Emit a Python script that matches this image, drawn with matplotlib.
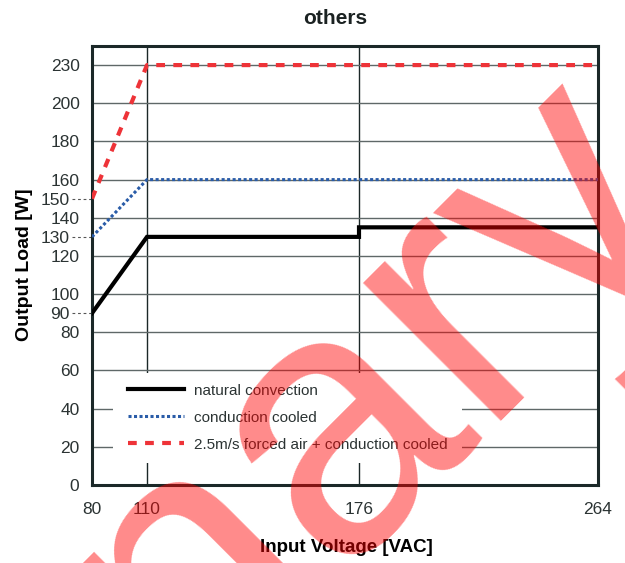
import numpy as np
import matplotlib
matplotlib.use("Agg")
import matplotlib.pyplot as plt
from matplotlib.patches import Rectangle

plt.rcParams["font.family"] = ["Liberation Sans", "DejaVu Sans"]

# ── derating curves (input voltage [VAC] -> output load [W]) ─────────
natural_v = [80, 110, 176, 176, 264]
natural_w = [90, 130, 130, 135, 135]

conduction_v = [80, 110, 264]
conduction_w = [130, 160, 160]

forced_v = [80, 110, 264]
forced_w = [150, 230, 230]

labels = [
    "natural convection",
    "conduction cooled",
    "2.5m/s forced air + conduction cooled",
]

x_ticks = [80, 110, 176, 264]
y_ticks = [0, 20, 40, 60, 80, 100, 120, 140, 160, 180, 200, 230]
y_extra = [90, 130, 150]

# ── axis spacing is not linear: piecewise break points ──────────────
x_break_v = [80, 110, 176, 264]
x_break_pos = [0, 55, 267, 506]
y_break_v = [0, 20, 40, 60, 80, 100, 120, 140, 160, 180, 200, 230, 260]
y_break_pos = list(range(len(y_break_v)))


def x_fwd(v):
    return np.interp(v, x_break_v, x_break_pos)


def x_inv(p):
    return np.interp(p, x_break_pos, x_break_v)


def y_fwd(v):
    return np.interp(v, y_break_v, y_break_pos)


def y_inv(p):
    return np.interp(p, y_break_pos, y_break_v)


DARK = "#1b2828"
TXT = "#2b3333"

fig = plt.figure(figsize=(6.25, 5.63), dpi=100)
ax = fig.add_axes([0.1472, 0.1385, 0.8096, 0.7798])
ax.set_xscale("function", functions=(x_fwd, x_inv))
ax.set_yscale("function", functions=(y_fwd, y_inv))
ax.set_xlim(80, 264)
ax.set_ylim(0, 245)
ax.set_axisbelow(True)

ax.plot(natural_v, natural_w, color="black", lw=3, solid_joinstyle="miter",
        label=labels[0], zorder=3)
ax.plot(conduction_v, conduction_w, color="#2a5ca8", lw=2.2,
        ls=(0, (1.0, 0.8)), label=labels[1], zorder=3)
ax.plot(forced_v, forced_w, color="#ee3338", lw=3,
        ls=(0, (2.1, 2.0)), label=labels[2], zorder=3)

# ticks and grid
ax.set_xticks(x_ticks)
ax.set_xticklabels([str(v) for v in x_ticks])
ax.set_yticks(y_ticks)
ax.set_yticklabels([str(v) for v in y_ticks])
ax.set_yticks(y_extra, minor=True)
ax.set_yticklabels([str(v) for v in y_extra], minor=True)
ax.tick_params(axis="both", which="major", length=0, labelsize=12.5,
               labelcolor=TXT)
ax.tick_params(axis="x", which="major", pad=12)
ax.tick_params(axis="y", which="major", pad=9)
ax.tick_params(axis="y", which="minor", length=0, pad=16, labelsize=12.5,
               labelcolor=TXT)
ax.xaxis.set_minor_locator(matplotlib.ticker.NullLocator())

ax.grid(axis="y", which="major", color="#5f6868", lw=1.0)
ax.grid(axis="x", which="major", color=DARK, lw=1.0)

# dashed leaders for the extra load labels
for v in y_extra:
    ax.plot([-0.04, 0], [v, v], transform=ax.get_yaxis_transform(),
            clip_on=False, color="#555555", lw=0.8, ls=(0, (2.5, 2.5)))

for s in ax.spines.values():
    s.set_color(DARK)
    s.set_linewidth(2.2)

# white patch behind the legend hides the grid there
ax.add_patch(Rectangle((0.0415, 0.05), 0.69, 0.205, transform=ax.transAxes,
                       facecolor="white", edgecolor="none", zorder=1))
leg = ax.legend(loc="upper left", bbox_to_anchor=(0.0711, 0.231),
                frameon=False, fontsize=11, handlelength=3.67,
                handletextpad=0.67, labelspacing=0.85, borderpad=0,
                borderaxespad=0)
for t in leg.get_texts():
    t.set_color(TXT)

fig.text(335 / 625, 1 - 18 / 563, "others", ha="center", va="center",
         fontsize=15, fontweight="bold", color="#1b2222")
fig.text(25 / 625, 1 - 265 / 563, "Output Load [W]", ha="center",
         va="center", rotation=90, fontsize=14, fontweight="bold",
         color="black")
fig.text(346 / 625, 1 - 548 / 563, "Input Voltage [VAC]", ha="center",
         va="center", fontsize=13.5, fontweight="bold", color="black")

# watermark
fig.text(1.109, 0.647, "Preliminary", fontsize=266,
         color="red", alpha=0.46, rotation=45, rotation_mode="anchor",
         ha="right", va="baseline", zorder=10)

fig.savefig("out.png", dpi=100)
